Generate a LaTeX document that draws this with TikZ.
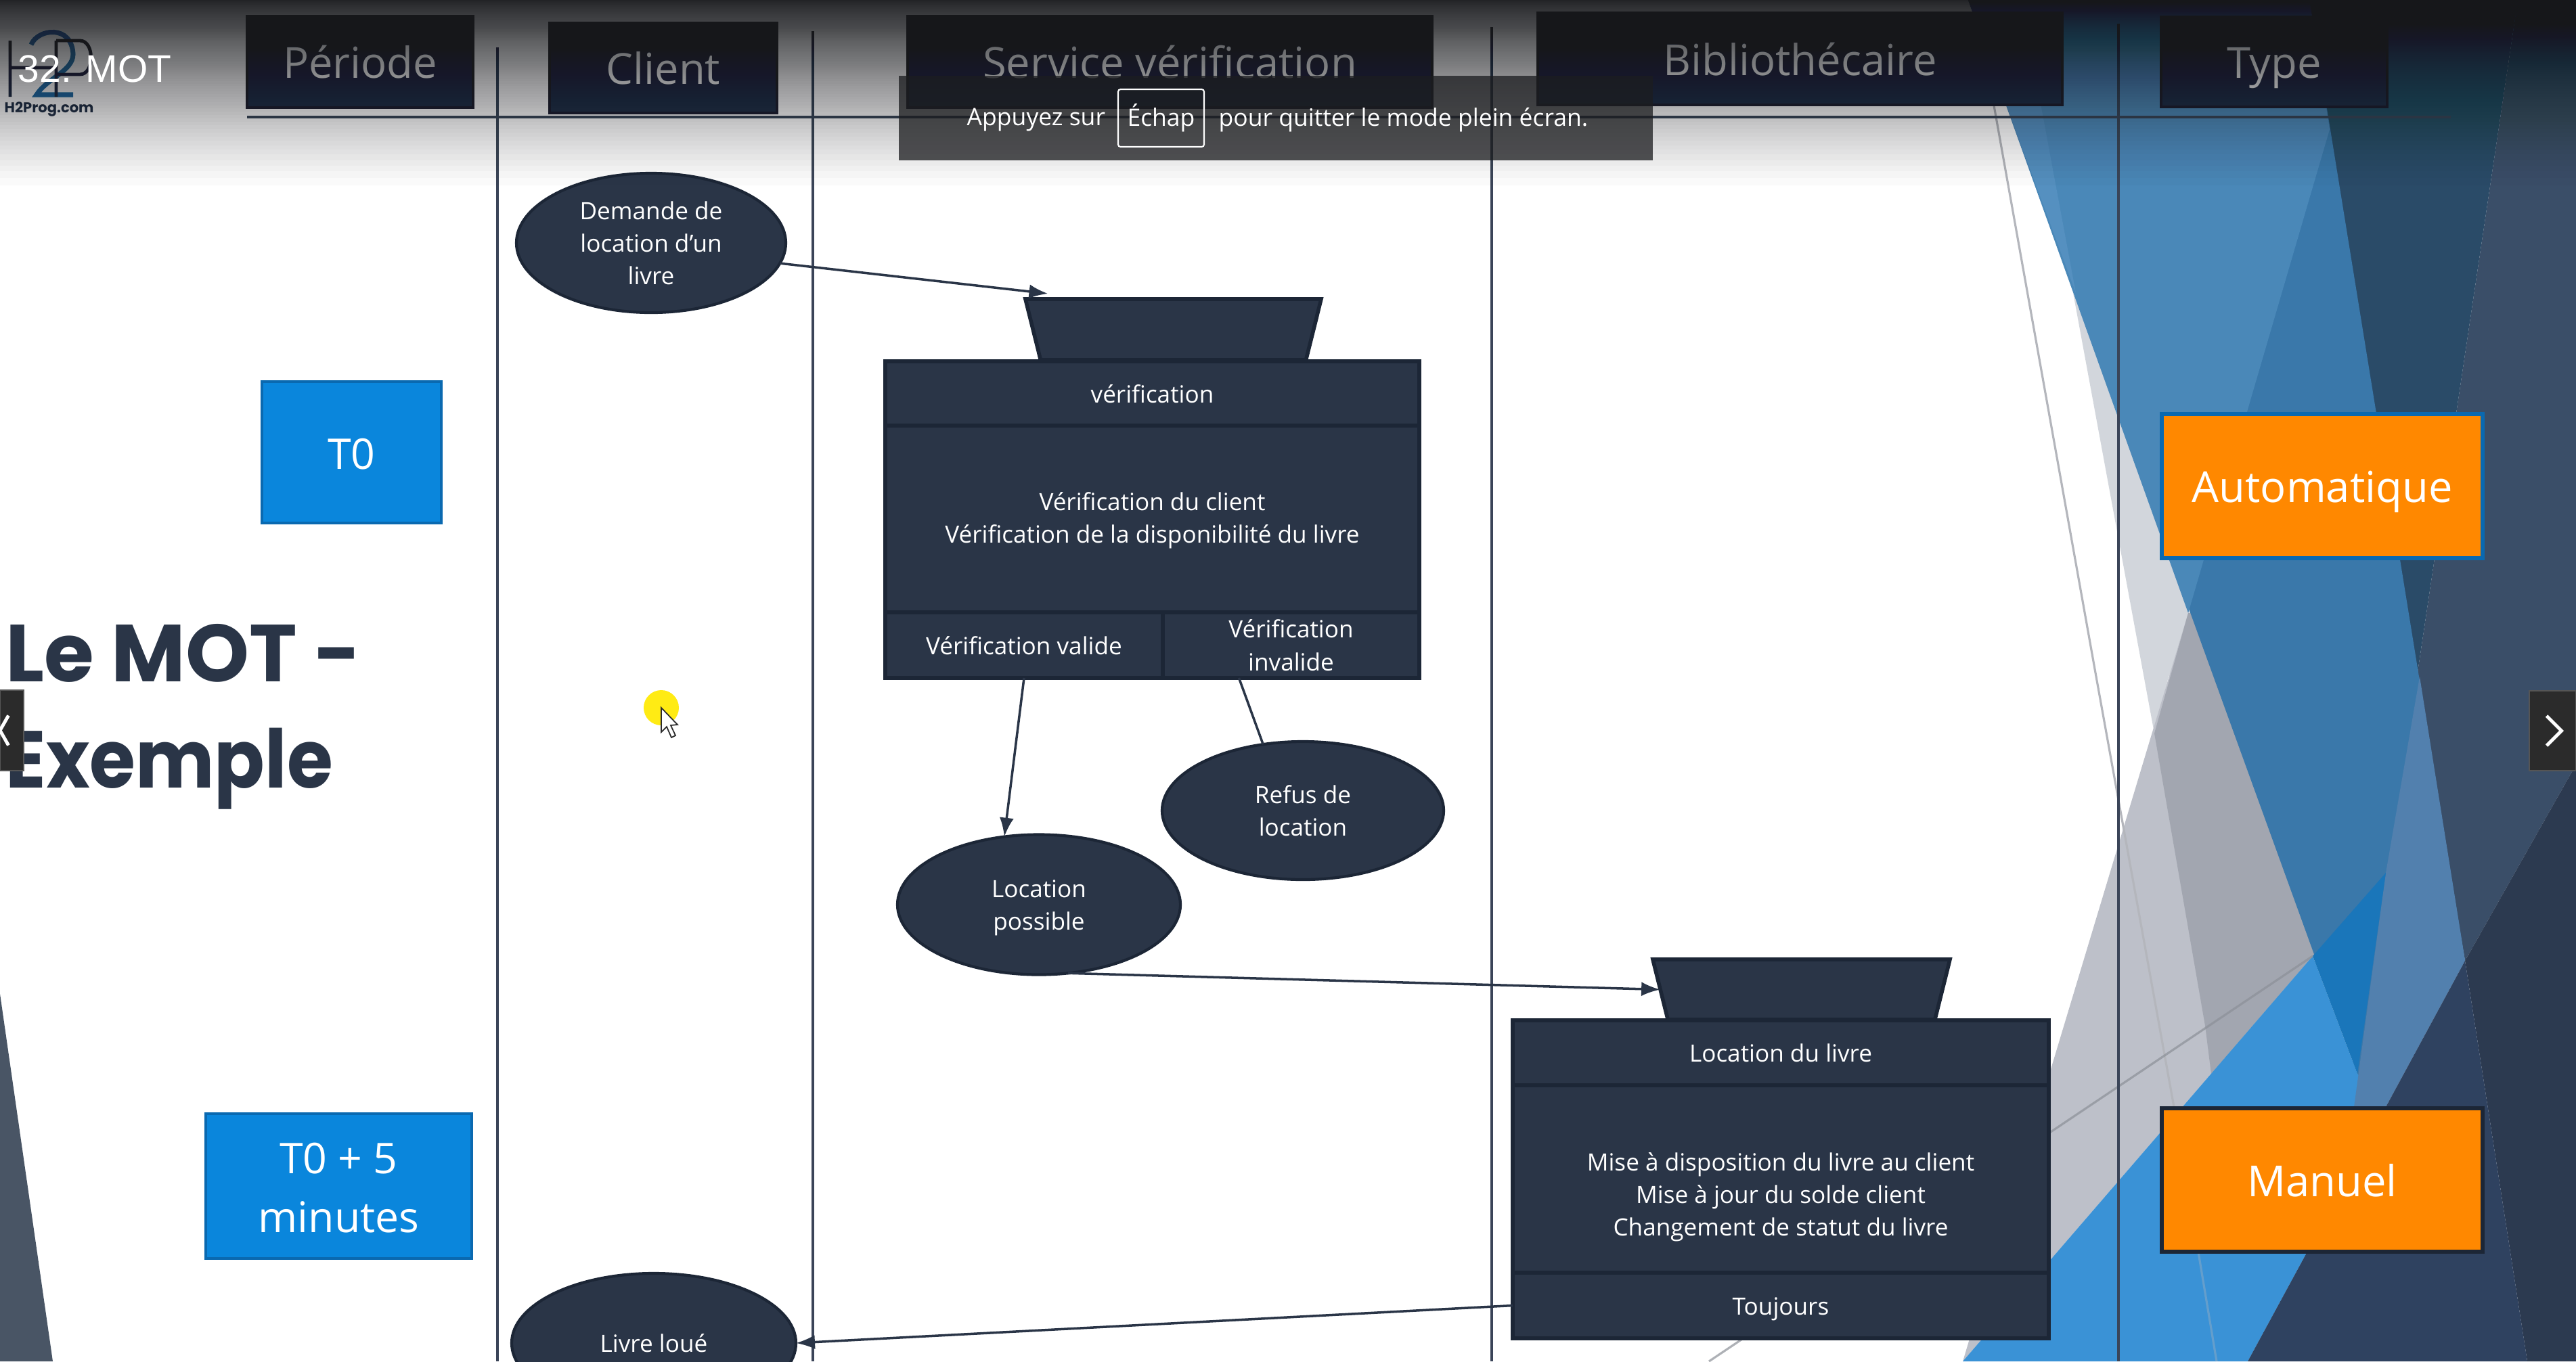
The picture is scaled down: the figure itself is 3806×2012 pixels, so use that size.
\documentclass[tikz,border=0pt]{standalone}
\usepackage{fontspec}
\setmainfont{Open Sans}
\newfontfamily\arialfont{Liberation Sans}
\newfontfamily\titlefont{Poppins}
\usetikzlibrary{shapes.geometric,arrows.meta,calc}
\newcommand\cen[2][0pt]{\raisebox{\dimexpr#1-.36em\relax}[0pt][0pt]{\begin{tabular}{@{}c@{}}#2\end{tabular}}}
\definecolor{navy}{HTML}{2A3547}
\definecolor{navyedge}{HTML}{1C2636}
\definecolor{lane}{HTML}{3A4458}
\definecolor{periodfill}{HTML}{0A86DC}
\definecolor{periodedge}{HTML}{0A69B0}
\definecolor{orangeA}{HTML}{FF8800}
\definecolor{slateA}{HTML}{495565}
\definecolor{greyA}{HTML}{D2D6DC}
\definecolor{greyB}{HTML}{BDC0C9}
\definecolor{greyC}{HTML}{A2A6B0}
\definecolor{slateB}{HTML}{3A4E68}
\definecolor{tealA}{HTML}{2A4B68}
\definecolor{blueA}{HTML}{3A78AA}
\definecolor{blueB}{HTML}{4A88B8}
\definecolor{blueC}{HTML}{5590C0}
\definecolor{blueD}{HTML}{3A92D6}
\definecolor{blueE}{HTML}{5280AE}
\definecolor{blueF}{HTML}{1A76BA}
\definecolor{deepA}{HTML}{2C3A50}
\definecolor{deepB}{HTML}{2F4260}
\definecolor{lineA}{HTML}{B4B6BC}
\definecolor{lineB}{HTML}{8C9098}
\definecolor{markyellow}{HTML}{FFEB14}
\definecolor{logoblue}{HTML}{1F6FA8}
\definecolor{shadeC}{HTML}{16171A}
\definecolor{toastc}{HTML}{1C1D20}
\definecolor{btn}{HTML}{2B2B2B}
\definecolor{btnedge}{HTML}{555555}
\tikzset{
 sz/.style 2 args={minimum width=#1*0.1mm,minimum height=#2*0.1mm},
 cell/.style={draw=navyedge,line width=1.6pt,fill=navy,text=white,inner sep=0,outer sep=0,rectangle,font=\fontsize{10}{13.7}\selectfont},
 oval/.style={cell,ellipse,line width=1.2pt},
 tray/.style={cell,trapezium,trapezium left angle=76,trapezium right angle=76,shape border rotate=180,trapezium stretches body=true},
 head/.style={rectangle,draw=navyedge,line width=1.2pt,fill=navy,text=white,inner sep=0,outer sep=0,font=\fontsize{18}{24}\selectfont},
 period/.style={rectangle,draw=periodedge,line width=1.2pt,fill=periodfill,text=white,inner sep=0,font=\fontsize{17.8}{24.7}\selectfont},
 kind/.style={rectangle,line width=1.6pt,fill=orangeA,text=white,inner sep=0,font=\fontsize{18}{24}\selectfont},
 flow/.style={draw=navy,line width=1pt,-{Latex[length=2.8mm,width=2.1mm]}},
 flowplain/.style={draw=navy,line width=1pt},
 lanerule/.style={draw=lane,line width=1.1pt},
 uitext/.style={inner sep=0,text=white,font=\fontsize{10.1}{13}\selectfont},
 navbtn/.style={rectangle,fill=btn,draw=btnedge,line width=0.4pt,inner sep=0},
 titletext/.style={anchor=west,inner sep=0,text=navy,font=\titlefont\bfseries\fontsize{34}{40}\selectfont},
}
\begin{document}
\begin{tikzpicture}[x=0.1mm,y=-0.1mm]
\useasboundingbox (0,0) rectangle (3806,2012);
\clip (0,0) rectangle (3806,2012);
\fill[white] (0,0) rectangle (3806,2012);
% --- decoration
\fill[slateA] (0,1469) -- (78,2012) -- (0,2012) -- cycle;
\fill[greyA] (3063,433) -- (3250,906) -- (3204,1000) -- (3183,1084) -- cycle;
\fill[greyB] (3233,906) -- (3260,906) -- (3440,1400) -- (3417,1413) -- (2900,2012) -- cycle;
\fill[greyC] (3233,906) -- (3260,906) -- (3440,1400) -- (3417,1413) -- (3267,1587) -- (3258,1516) -- (3183,1084) -- cycle;
\fill[slateB] (3720,0) -- (3806,0) -- (3806,1130) -- (3642,1420) -- (3571,1000) -- cycle;
\fill[tealA] (3412,0) -- (3720,0) -- (3571,1000) -- cycle;
\fill[blueA] (2908,0) -- (3412,0) -- (3642,1420) -- (3500,1640) -- (3483,1587) -- cycle;
\fill[blueB] (2908,0) -- (3412,0) -- (3442,191) -- (3233,906) -- cycle;
\fill[blueC] (2944,100) -- (3005,100) -- (3067,433) -- cycle;
\fill[blueD] (3417,1413) -- (3483,1587) -- (3525,1636) -- (3321,2012) -- (2900,2012) -- cycle;
\fill[blueE] (3575,1000) -- (3642,1420) -- (3525,1636) -- (3478,1636) -- (3525,1290) -- cycle;
\fill[blueF] (3417,1413) -- (3525,1290) -- (3483,1587) -- cycle;
\fill[deepA] (3642,1420) -- (3806,1130) -- (3806,2012) -- (3734,2012) -- cycle;
\fill[deepB] (3642,1420) -- (3734,2012) -- (3321,2012) -- (3525,1636) -- cycle;
\draw[lineA,line width=0.9pt] (2946,156) -- (3097,1000) -- (3212,1636);
\draw[lineA,opacity=.35,line width=0.9pt] (3212,1636) -- (3275,2012);
\draw[lineB,opacity=.7,line width=0.9pt] (3417,1413) -- (2525,2012);
% --- swimlanes
\draw[lanerule] (735,70) -- (735,2012);
\draw[lanerule] (1201,46) -- (1201,2012);
\draw[lanerule] (2204,40) -- (2204,2012);
\draw[lanerule] (3130,35) -- (3130,2012);
\draw[lane,line width=1.4pt] (365,173) -- (3621,173);
\node[head,sz={334}{135}] (hper) at (532,91.5) {\cen{Période}};
\node[head,sz={336}{133}] (hcli) at (980,100.5) {\cen{Client}};
\node[head,sz={775}{135}] (hsrv) at (1728.5,91.5) {\cen{Service vérification}};
\node[head,sz={775}{136}] (hbib) at (2659.5,87) {\cen{Bibliothécaire}};
\node[head,sz={334}{133}] (htyp) at (3360,91.5) {\cen{Type}};
% --- title
\node[titletext] (title1) at (8,965) {Le MOT -};
\node[titletext] (title2) at (8,1136) {\scalebox{.92}[1]{Exemple}};
% --- periods and types
\node[period,sz={265}{209}] (t0) at (519.5,668.5) {\cen{T0}};
\node[period,sz={393}{214}] (t5) at (500.5,1753) {\cen{T0 + 5\\minutes}};
\node[kind,draw=periodedge,sz={474}{213}] (auto) at (3431,718.5) {\cen{Automatique}};
\node[kind,draw=navyedge,sz={474}{212}] (man) at (3431,1744) {\cen{Manuel}};
% --- first MOT
\node[tray,minimum width=43.7mm] (t1) at (1733.5,487) {\phantom{\rule{2mm}{9mm}}};
\node[cell,sz={789}{95}] (v1h) at (1702.5,581.5) {\cen{vérification}};
\node[cell,sz={789}{276}] (v1b) at (1702.5,767) {\cen[.2mm]{Vérification du client\\Vérification de la disponibilité du livre}};
\node[cell,sz={410}{97}] (v1a) at (1513,953.5) {\cen{Vérification valide}};
\node[cell,sz={379}{97}] (v1c) at (1907.5,953.5) {\cen{Vérification\\invalide}};
% --- second MOT
\node[tray,minimum width=43.9mm] (t2) at (2661.5,1462.5) {\phantom{\rule{2mm}{8.9mm}}};
\node[cell,sz={792}{96}] (v2h) at (2631,1556) {\cen{Location du livre}};
\node[cell,sz={792}{277}] (v2b) at (2631,1742.5) {\cen[-2.25mm]{Mise à disposition du livre au client\\Mise à jour du solde client\\Changement de statut du livre}};
\node[cell,sz={792}{97}] (v2a) at (2631,1929.5) {\cen{Toujours}};
% --- events
\node[oval,sz={398}{206}] (dem) at (962,359) {\cen{Demande de\\location d’un\\livre}};
\node[oval,sz={416}{204}] (ref) at (1925,1198) {\cen{Refus de\\location}};
\node[oval,sz={418}{207}] (loc) at (1535,1337) {\cen{Location\\possible}};
\node[oval,sz={420}{206}] (liv) at (966,1985) {\cen{Livre loué}};
% --- connectors
\draw[flow] (dem.-9) -- ($(t1.north)+(-185,-8)$);
\draw[flow] (v1a.south) -- (loc.117);
\draw[flowplain] ($(v1c.south)+(-77,0)$) -- (ref.121);
\draw[flow] (loc.-67) -- (t2.180);
\draw[flow] (v2a.west) -- (liv.east);
% --- cursor
\fill[markyellow] (977,1046) circle (26);
\fill[white,draw=btn,line width=0.5pt] (977,1046) -- (977,1082) -- (985,1074) -- (992,1090) -- (998,1087) -- (991,1072) -- (1001,1071) -- cycle;
% --- logo
\draw[logoblue,line width=2pt] (46,66) .. controls (56,42) and (106,36) .. (108,80) .. controls (108,105) and (70,115) .. (54,140) -- (108,140);
\draw[navy,line width=1.4pt] (15,60) -- (15,143) (15,100) -- (83,100) (83,60) -- (83,143) (83,60) -- (118,60) .. controls (140,60) and (140,110) .. (118,110) -- (83,110);
\node[anchor=west,inner sep=0,text=navy,font=\titlefont\bfseries\fontsize{6}{7}\selectfont] (logo) at (6,162) {H2Prog.com};
% --- top shadow of the player
\foreach \k in {1,...,100}{
 \pgfmathsetmacro{\hh}{290*(1-pow(min((1-pow(.98,\k))/.867,1),.769))}
 \fill[shadeC,opacity=.02] (0,0) rectangle (3806,\hh);
}
% --- player
\node[anchor=west,inner sep=0,text=white,font=\arialfont\fontsize{16.2}{20}\selectfont] (ptitle) at (26,102) {32. MOT};
\node[rectangle,fill=toastc,fill opacity=.76,inner sep=0,sz={1114}{125}] (toast) at (1885,174.5) {};
\node[anchor=west,uitext] (tl) at (1428,177) {Appuyez sur};
\node[rectangle,draw=white,rounded corners=1pt,line width=0.6pt,uitext,sz={127}{85}] (esc) at (1715.5,174.5) {Échap};
\node[anchor=west,uitext] (tr) at (1800,177) {pour quitter le mode plein écran.};
\node[navbtn,sz={69}{118}] (nr) at (3771.5,1080) {};
\draw[white,line width=1.4pt] ($(nr.center)+(-9,-22)$) -- ($(nr.center)+(13,0)$) -- ($(nr.center)+(-9,22)$);
\node[navbtn,sz={35}{119}] (nl) at (17.5,1079.5) {};
\draw[white,line width=1.4pt] ($(nl.center)+(-5,-22)$) -- ($(nl.center)+(-17.5,0)$) -- ($(nl.center)+(-5,22)$);
\end{tikzpicture}
\end{document}
